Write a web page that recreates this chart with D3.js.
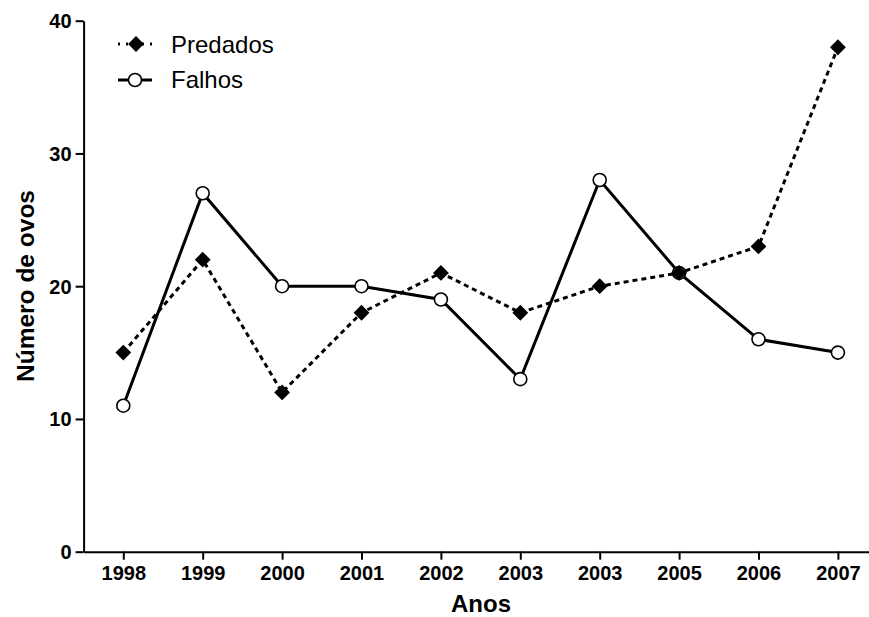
<!DOCTYPE html>
<html><head><meta charset="utf-8">
<script src="https://cdn.jsdelivr.net/npm/d3@7"></script>
<style>body{margin:0;background:#fff}svg{display:block}text{font-family:"Liberation Sans",Arial,sans-serif}</style>
</head><body><svg id="c" width="869" height="617"></svg>
<script>
const categories = ["1998","1999","2000","2001","2002","2003","2003","2005","2006","2007"];
const predados = [15,22,12,18,21,18,20,21,23,38];
const falhos = [11,27,20,20,19,13,28,21,16,15];
const yTicks = [0,10,20,30,40];

const svg = d3.select("#c");
const x = d3.scaleLinear().domain([-0.5, 9.5]).range([83.6, 877.6]);
const y = d3.scaleLinear().domain([0, 40]).range([551.7, 20.7]);

// Axes
const gx = svg.append("g").attr("transform","translate(0,551.7)")
  .call(d3.axisBottom(x).tickValues(d3.range(categories.length)).tickFormat(i=>categories[i]).tickSize(8).tickPadding(6).tickSizeOuter(0));
const gy = svg.append("g").attr("transform","translate(83.6,0)")
  .call(d3.axisLeft(y).tickValues(yTicks).tickSize(8).tickPadding(4).tickSizeOuter(0));
[gx,gy].forEach(g=>{
  g.selectAll("path,line").attr("stroke","#000").attr("stroke-width",2);
  g.selectAll("text").attr("font-size",20).attr("font-weight","bold").attr("fill","#000")
   .attr("font-family",'"Liberation Sans",Arial,sans-serif');
});
gy.selectAll("text").attr("dy","0.35em");

// titles
svg.append("text").attr("x",481).attr("y",612).attr("text-anchor","middle")
  .attr("font-size",24).attr("font-weight","bold").text("Anos");
svg.append("text").attr("transform","translate(34,286) rotate(-90)").attr("text-anchor","middle")
  .attr("font-size",24.5).attr("font-weight","bold").text("Número de ovos");

const line = d3.line().x((d,i)=>x(i)).y(d=>y(d));
const diamond = d3.symbol().type(d3.symbolSquare).size(125);

// Falhos
svg.append("path").datum(falhos).attr("d",line).attr("fill","none").attr("stroke","#000").attr("stroke-width",3);
svg.selectAll(".fc").data(falhos).join("circle").attr("cx",(d,i)=>x(i)).attr("cy",d=>y(d)).attr("r",6.5)
  .attr("fill","#fff").attr("stroke","#000").attr("stroke-width",1.6);

// Predados
svg.append("path").datum(predados).attr("d",line).attr("fill","none").attr("stroke","#000").attr("stroke-width",3).attr("stroke-dasharray","5,4");
svg.selectAll(".pd").data(predados).join("path").attr("d",diamond)
  .attr("transform",(d,i)=>`translate(${x(i)},${y(d)}) rotate(45)`).attr("fill","#000");

// legend
const lg = svg.append("g");
lg.append("line").attr("x1",118).attr("x2",152).attr("y1",44).attr("y2",44).attr("stroke","#000").attr("stroke-width",3).attr("stroke-dasharray","2,6");
lg.append("path").attr("d",diamond).attr("transform","translate(136,44) rotate(45)").attr("fill","#000");
lg.append("text").attr("x",171).attr("y",53).attr("font-size",24).text("Predados");
lg.append("line").attr("x1",118).attr("x2",152).attr("y1",80).attr("y2",80).attr("stroke","#000").attr("stroke-width",3);
lg.append("circle").attr("cx",135).attr("cy",80).attr("r",6.5).attr("fill","#fff").attr("stroke","#000").attr("stroke-width",1.6);
lg.append("text").attr("x",171).attr("y",88).attr("font-size",24).text("Falhos");
</script></body></html>
